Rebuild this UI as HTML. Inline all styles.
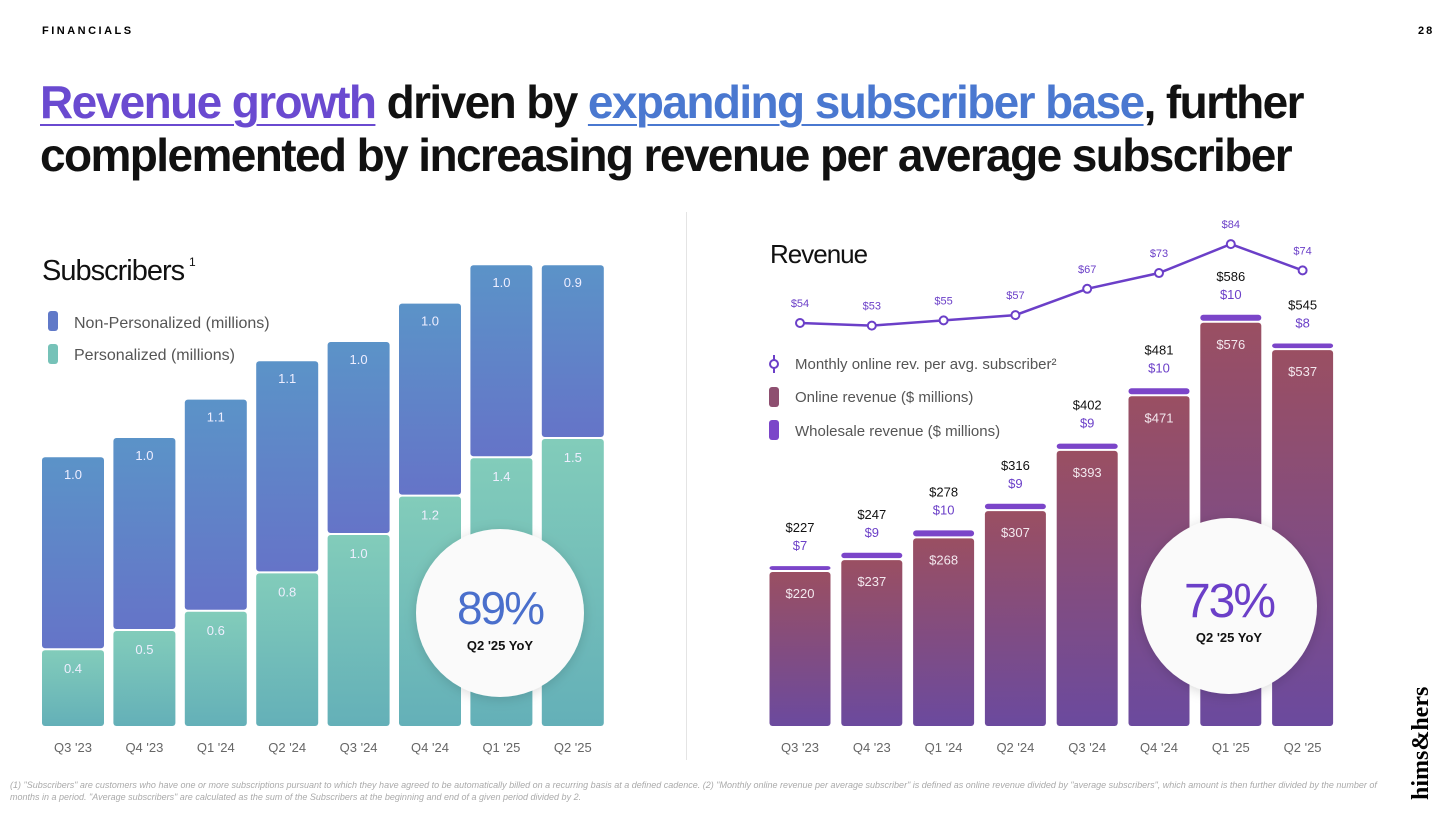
<!DOCTYPE html>
<html><head><meta charset="utf-8"><style>
body{margin:0;width:1456px;height:817px;background:#fff;font-family:"Liberation Sans",sans-serif;overflow:hidden;position:relative}
.abs{position:absolute}
h1{position:absolute;left:40px;top:76px;margin:0;font-size:46px;line-height:53px;font-weight:bold;letter-spacing:-1.6px;color:#111;white-space:nowrap}
.u1{color:#6a4ad0;text-decoration:underline;text-decoration-thickness:2px;text-underline-offset:6px}
.u2{color:#4a78d0;text-decoration:underline;text-decoration-thickness:2px;text-underline-offset:6px}
svg text{font-family:"Liberation Sans",sans-serif}
</style></head><body>
<div class="abs" style="left:42px;top:25px;font-size:11px;letter-spacing:2.5px;font-weight:bold">FINANCIALS</div>
<div class="abs" style="left:1418px;top:25px;font-size:11px;font-weight:bold;letter-spacing:2px">28</div>
<h1><span class="u1">Revenue growth</span> driven by <span class="u2">expanding subscriber base</span>, further<br>complemented by increasing revenue per average subscriber</h1>
<div class="abs" style="left:686px;top:212px;width:1px;height:548px;background:#e4e4e4"></div>
<svg id="chart" class="abs" style="left:0;top:0" width="1456" height="817">
<defs>
<linearGradient id="gb" x1="0" y1="0" x2="0" y2="1"><stop offset="0" stop-color="#5b93c8"/><stop offset="1" stop-color="#6574c8"/></linearGradient>
<linearGradient id="gt" x1="0" y1="0" x2="0" y2="1"><stop offset="0" stop-color="#82ccba"/><stop offset="1" stop-color="#64b0b8"/></linearGradient>
<linearGradient id="gr" x1="0" y1="0" x2="0" y2="1"><stop offset="0" stop-color="#9a4f62"/><stop offset="1" stop-color="#6b4a9e"/></linearGradient>
<filter id="sh" x="-30%" y="-30%" width="160%" height="160%"><feDropShadow dx="0" dy="2" stdDeviation="6" flood-opacity="0.15"/></filter>
</defs>
<g id="left"></g><g id="right"></g>
</svg>
<div class="abs" style="left:10px;top:779px;width:1380px;font-size:9px;color:#aaa;font-style:italic;line-height:12px">(1) "Subscribers" are customers who have one or more subscriptions pursuant to which they have agreed to be automatically billed on a recurring basis at a defined cadence. (2) "Monthly online revenue per average subscriber" is defined as online revenue divided by "average subscribers", which amount is then further divided by the number of months in a period. "Average subscribers" are calculated as the sum of the Subscribers at the beginning and end of a given period divided by 2.</div>
<div class="abs" style="left:1408px;top:800px;transform:rotate(-90deg);transform-origin:0 0;font-family:'Liberation Serif',serif;font-weight:bold;font-size:24px;white-space:nowrap">hims&amp;hers</div>
<script>
const categories=["Q3 '23","Q4 '23","Q1 '24","Q2 '24","Q3 '24","Q4 '24","Q1 '25","Q2 '25"];
const personalized=[0.4,0.5,0.6,0.8,1.0,1.2,1.4,1.5];
const nonPersonalized=[1.0,1.0,1.1,1.1,1.0,1.0,1.0,0.9];
const onlineRev=[220,237,268,307,393,471,576,537];
const wholesaleRev=[7,9,10,9,9,10,10,8];
const totalRev=[227,247,278,316,402,481,586,545];
const arpu=[54,53,55,57,67,73,84,74];
const NS="http://www.w3.org/2000/svg";
function mk(p,t,a,txt){const e=document.createElementNS(NS,t);for(const k in a)e.setAttribute(k,a[k]);if(txt!==undefined)e.textContent=txt;p.appendChild(e);return e;}
const L=document.getElementById('left'),R=document.getElementById('right');
const base=726;
const lx=i=>73+i*71.4, ly=v=>base-v*192;
mk(L,'text',{x:42,y:280,'font-size':29,fill:'#111','letter-spacing':-1},'Subscribers');
mk(L,'text',{x:189,y:266,'font-size':12,fill:'#111'},'1');
let e;
e=mk(L,'rect',{x:48,y:311,width:10,height:20,rx:3,fill:'#6079c8'});
e=mk(L,'text',{x:74,y:328,'font-size':16,fill:'#555'},'Non-Personalized (millions)');
e=mk(L,'rect',{x:48,y:344,width:10,height:20,rx:3,fill:'#76c2b8'});
e=mk(L,'text',{x:74,y:360,'font-size':16,fill:'#555'},'Personalized (millions)');
categories.forEach((c,i)=>{
  const x=lx(i)-31,yp=ly(personalized[i]),yt=ly(personalized[i]+nonPersonalized[i]);
  let b=mk(L,'rect',{x:x,y:yp+1,width:62,height:base-yp-1,rx:3,fill:'url(#gt)'});
  
  b=mk(L,'rect',{x:x,y:yt,width:62,height:yp-yt-1,rx:3,fill:'url(#gb)'});
  
  mk(L,'text',{x:lx(i),y:yp+24,'font-size':13,fill:'#eef','text-anchor':'middle'},personalized[i].toFixed(1));
  mk(L,'text',{x:lx(i),y:yt+22,'font-size':13,fill:'#eef','text-anchor':'middle'},nonPersonalized[i].toFixed(1));
  e=mk(L,'text',{x:lx(i),y:752,'font-size':13,fill:'#666','text-anchor':'middle'},c);
  
});
e=mk(L,'circle',{cx:500,cy:613,r:84,fill:'#fafafa',filter:'url(#sh)'});
mk(L,'text',{x:500,y:624,'font-size':46,fill:'#4a6fcc','text-anchor':'middle','letter-spacing':-2},'89%');
mk(L,'text',{x:500,y:650,'font-size':13,'font-weight':'bold',fill:'#111','text-anchor':'middle'},"Q2 '25 YoY");
const rx=i=>800+i*71.8, ry=v=>base-v*0.7, ay=v=>323-(v-54)*2.63;
e=mk(R,'text',{x:770,y:263,'font-size':26,fill:'#111','letter-spacing':-1},'Revenue');
categories.forEach((c,i)=>{
  const x=rx(i)-30.5,yo=ry(onlineRev[i]),yw=ry(onlineRev[i]+wholesaleRev[i]);
  let b=mk(R,'rect',{x:x,y:yo,width:61,height:base-yo,rx:3,fill:'url(#gr)'});
  
  b=mk(R,'rect',{x:x,y:yw-1,width:61,height:yo-yw-1,rx:3,fill:'#7b45c9'});
  
  mk(R,'text',{x:rx(i),y:yo+26,'font-size':13,fill:'#f3e8ee','text-anchor':'middle'},'$'+onlineRev[i]);
  mk(R,'text',{x:rx(i),y:yw-17,'font-size':13,fill:'#6b3fc8','text-anchor':'middle'},'$'+wholesaleRev[i]);
  mk(R,'text',{x:rx(i),y:yw-35,'font-size':13,fill:'#111','text-anchor':'middle'},'$'+totalRev[i]);
  e=mk(R,'text',{x:rx(i),y:752,'font-size':13,fill:'#666','text-anchor':'middle'},c);
  
});
let pts=arpu.map((v,i)=>rx(i)+','+ay(v)).join(' ');
e=mk(R,'polyline',{points:pts,fill:'none',stroke:'#6b3fc8','stroke-width':2.5});
arpu.forEach((v,i)=>{
  e=mk(R,'circle',{cx:rx(i),cy:ay(v),r:4,fill:'#fff',stroke:'#6b3fc8','stroke-width':2});
  
  mk(R,'text',{x:rx(i),y:ay(v)-16,'font-size':11,fill:'#6b3fc8','text-anchor':'middle'},'$'+v);
});
e=mk(R,'line',{x1:774,y1:355,x2:774,y2:373,stroke:'#6b3fc8','stroke-width':2});
mk(R,'circle',{cx:774,cy:364,r:4,fill:'#fff',stroke:'#6b3fc8','stroke-width':2});
mk(R,'text',{x:795,y:369,'font-size':15,fill:'#555'},'Monthly online rev. per avg. subscriber²');
mk(R,'rect',{x:769,y:387,width:10,height:20,rx:3,fill:'#8e4f70'});
mk(R,'text',{x:795,y:402,'font-size':15,fill:'#555'},'Online revenue ($ millions)');
mk(R,'rect',{x:769,y:420,width:10,height:20,rx:3,fill:'#7b45c9'});
mk(R,'text',{x:795,y:436,'font-size':15,fill:'#555'},'Wholesale revenue ($ millions)');
e=mk(R,'circle',{cx:1229,cy:606,r:88,fill:'#fafafa',filter:'url(#sh)'});
mk(R,'text',{x:1229,y:617,'font-size':48,fill:'#6b3fc8','text-anchor':'middle','letter-spacing':-2},'73%');
mk(R,'text',{x:1229,y:642,'font-size':13,'font-weight':'bold',fill:'#111','text-anchor':'middle'},"Q2 '25 YoY");
</script>
</body></html>
